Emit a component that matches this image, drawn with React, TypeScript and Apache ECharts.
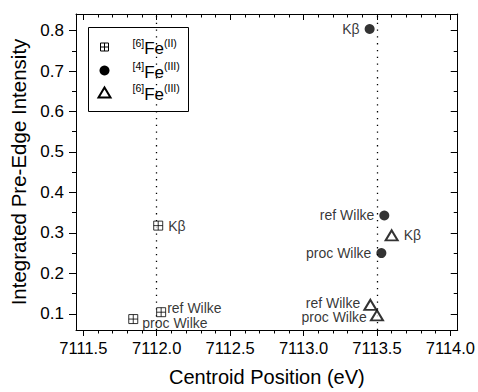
import React, { useEffect, useRef } from "react";
import * as echarts from "echarts";

// ---- data ----
const fe2Names = ["Kβ", "ref Wilke", "proc Wilke"];
const fe2X = [7112.01, 7112.03, 7111.84];
const fe2Y = [0.318, 0.104, 0.087];

const fe3TetNames = ["Kβ", "ref Wilke", "proc Wilke"];
const fe3TetX = [7113.45, 7113.55, 7113.53];
const fe3TetY = [0.804, 0.343, 0.25];

const fe3OctNames = ["Kβ", "ref Wilke", "proc Wilke"];
const fe3OctX = [7113.6, 7113.455, 7113.5];
const fe3OctY = [0.294, 0.122, 0.096];

const refLines = [7112.0, 7113.5];

const xTickValues = [7111.5, 7112.0, 7112.5, 7113.0, 7113.5, 7114.0];
const xMinorValues = [
  7111.5, 7111.6, 7111.7, 7111.8, 7111.9, 7112.0, 7112.1, 7112.2, 7112.3, 7112.4,
  7112.5, 7112.6, 7112.7, 7112.8, 7112.9, 7113.0, 7113.1, 7113.2, 7113.3, 7113.4,
  7113.5, 7113.6, 7113.7, 7113.8, 7113.9, 7114.0,
];
const yTickValues = [0.1, 0.2, 0.3, 0.4, 0.5, 0.6, 0.7, 0.8];
const yMinorValues = [
  0.1, 0.15, 0.2, 0.25, 0.3, 0.35, 0.4, 0.45, 0.5, 0.55, 0.6, 0.65, 0.7, 0.75, 0.8,
];

const FONT = "Liberation Sans";
const SQ_PLUS = "path://M0,0L10,0L10,10L0,10Z M5,0L5,10 M0,5L10,5";

export default function App() {
  const ref = useRef<HTMLDivElement>(null);

  useEffect(() => {
    if (!ref.current) return;
    const chart = echarts.init(ref.current, null, { renderer: "svg" });

    const xMin = 7111.45;
    const xMax = 7114.05;
    const yMin = 0.06;
    const yMax = 0.841;

    const mkLabel = (pos: string, offset: number[] = [0, 0], distance = 5) => ({
      show: true,
      position: pos,
      distance,
      offset,
      formatter: (p: any) => p.name,
      color: "#000",
      fontSize: 14,
      lineHeight: 12,
      fontFamily: FONT,
    });

    const baseX = {
      type: "value",
      min: xMin,
      max: xMax,
      splitLine: { show: false },
    };
    const baseY = {
      type: "value",
      min: yMin,
      max: yMax,
      splitLine: { show: false },
    };
    const line = { show: true, lineStyle: { color: "#000", width: 1 } };

    const option: any = {
      animation: false,
      textStyle: { fontFamily: FONT },
      grid: { left: 76, right: 20, top: 14, bottom: 58, containLabel: false },
      xAxis: [
        {
          ...baseX,
          position: "bottom",
          axisLine: line,
          axisTick: {
            show: true,
            inside: false,
            length: 6,
            customValues: xTickValues,
            lineStyle: { color: "#000" },
          },
          axisLabel: {
            show: true,
            customValues: xTickValues,
            formatter: (v: number) => v.toFixed(1),
            fontSize: 16.5,
            color: "#000",
            margin: 9,
            fontFamily: FONT,
          },
          name: "Centroid Position (eV)",
          nameLocation: "middle",
          nameGap: 37,
          nameTextStyle: { fontSize: 20, color: "#000", fontFamily: FONT },
        },
        {
          ...baseX,
          position: "bottom",
          axisLine: { show: false },
          axisTick: {
            show: true,
            inside: false,
            length: 3.5,
            customValues: xMinorValues,
            lineStyle: { color: "#000" },
          },
          axisLabel: { show: false },
        },
        {
          ...baseX,
          position: "top",
          axisLine: line,
          axisTick: {
            show: true,
            inside: true,
            length: 6,
            customValues: xTickValues,
            lineStyle: { color: "#000" },
          },
          axisLabel: { show: false },
        },
        {
          ...baseX,
          position: "top",
          axisLine: { show: false },
          axisTick: {
            show: true,
            inside: true,
            length: 3.5,
            customValues: xMinorValues,
            lineStyle: { color: "#000" },
          },
          axisLabel: { show: false },
        },
      ],
      yAxis: [
        {
          ...baseY,
          position: "left",
          axisLine: line,
          axisTick: {
            show: true,
            inside: false,
            length: 7,
            customValues: yTickValues,
            lineStyle: { color: "#000" },
          },
          axisLabel: {
            show: true,
            customValues: yTickValues,
            formatter: (v: number) => v.toFixed(1),
            fontSize: 17,
            color: "#000",
            margin: 12,
            fontFamily: FONT,
          },
          name: "Integrated Pre-Edge Intensity",
          nameLocation: "middle",
          nameGap: 46,
          nameTextStyle: { fontSize: 20.5, color: "#000", fontFamily: FONT },
        },
        {
          ...baseY,
          position: "left",
          axisLine: { show: false },
          axisTick: {
            show: true,
            inside: false,
            length: 4,
            customValues: yMinorValues,
            lineStyle: { color: "#000" },
          },
          axisLabel: { show: false },
        },
        {
          ...baseY,
          position: "right",
          axisLine: line,
          axisTick: {
            show: true,
            inside: true,
            length: 7,
            customValues: yTickValues,
            lineStyle: { color: "#000" },
          },
          axisLabel: { show: false },
        },
        {
          ...baseY,
          position: "right",
          axisLine: { show: false },
          axisTick: {
            show: true,
            inside: true,
            length: 4,
            customValues: yMinorValues,
            lineStyle: { color: "#000" },
          },
          axisLabel: { show: false },
        },
      ],
      series: [
        {
          name: "fe2",
          type: "scatter",
          xAxisIndex: 0,
          yAxisIndex: 0,
          symbol: SQ_PLUS,
          symbolSize: 9,
          itemStyle: { color: "#fff", borderColor: "#000", borderWidth: 1 },
          z: 5,
          data: fe2X.map((x, i) => ({
            name: fe2Names[i],
            value: [x, fe2Y[i]],
            label:
              i === 1
                ? mkLabel("right", [0, -4], 1)
                : i === 2
                ? mkLabel("right", [0, 4], 4)
                : mkLabel("right"),
          })),
          markLine: {
            silent: true,
            symbol: ["none", "none"],
            label: { show: false },
            lineStyle: { color: "#000", width: 1.3, type: [1.3, 5.5] },
            data: refLines.map((v) => ({ xAxis: v })),
            z: 1,
          },
        },
        {
          name: "fe3tet",
          type: "scatter",
          xAxisIndex: 0,
          yAxisIndex: 0,
          symbol: "circle",
          symbolSize: 10,
          itemStyle: { color: "#000" },
          z: 5,
          data: fe3TetX.map((x, i) => ({
            name: fe3TetNames[i],
            value: [x, fe3TetY[i]],
            label: mkLabel("left"),
          })),
        },
        {
          name: "fe3oct",
          type: "scatter",
          xAxisIndex: 0,
          yAxisIndex: 0,
          symbol: "triangle",
          symbolSize: [12, 10],
          itemStyle: { color: "#fff", borderColor: "#000", borderWidth: 2 },
          z: 5,
          data: fe3OctX.map((x, i) => ({
            name: fe3OctNames[i],
            value: [x, fe3OctY[i]],
            label:
              i === 0
                ? mkLabel("right")
                : i === 1
                ? mkLabel("left", [0, -2], 3)
                : mkLabel("left", [0, 2], 3),
          })),
        },
      ],
      graphic: [
        {
          type: "group",
          left: 88,
          top: 27,
          z: 100,
          children: [
            {
              type: "rect",
              shape: { x: 0, y: 0, width: 100, height: 84 },
              style: { fill: "#fff", stroke: "#000", lineWidth: 1 },
            },
            {
              type: "rect",
              shape: { x: 12, y: 15.5, width: 8, height: 8 },
              style: { fill: "#fff", stroke: "#000", lineWidth: 1 },
            },
            {
              type: "line",
              shape: { x1: 16, y1: 15.5, x2: 16, y2: 23.5 },
              style: { stroke: "#000", lineWidth: 1 },
            },
            {
              type: "line",
              shape: { x1: 12, y1: 19.5, x2: 20, y2: 19.5 },
              style: { stroke: "#000", lineWidth: 1 },
            },
            {
              type: "circle",
              shape: { cx: 16, cy: 43, r: 5 },
              style: { fill: "#000" },
            },
            {
              type: "polygon",
              shape: { points: [[10, 70], [22, 70], [16, 60]] },
              style: { fill: "#fff", stroke: "#000", lineWidth: 2 },
            },
            ...[
              ["[6]", "(II)", 19.5],
              ["[4]", "(III)", 43],
              ["[6]", "(III)", 65],
            ].map(([pre, post, cy]) => ({
              type: "text",
              x: 44,
              y: cy as number,
              style: {
                text: `{s|${pre}}{b|Fe}{s|${post}}`,
                verticalAlign: "middle",
                align: "left",
                fill: "#000",
                fontFamily: FONT,
                rich: {
                  b: { fontSize: 17, lineHeight: 20, fontFamily: FONT, fill: "#000", verticalAlign: "bottom" },
                  s: { fontSize: 10.5, lineHeight: 20, fontFamily: FONT, fill: "#000", verticalAlign: "top", padding: [0, 0, 8, 0] },
                },
              },
            })),
          ],
        },
      ],
    };

    chart.setOption(option);
    return () => chart.dispose();
  }, []);

  return (
    <div
      ref={ref}
      style={{ position: "absolute", left: 0, top: 0, width: 478, height: 392 }}
    />
  );
}
